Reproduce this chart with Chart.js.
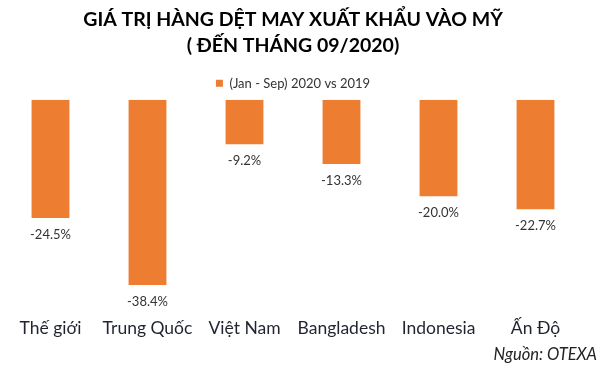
<!DOCTYPE html>
<html>
<head>
<meta charset="utf-8">
<script src="https://cdn.jsdelivr.net/npm/chart.js@4"></script>
<style>
  html, body { margin: 0; padding: 0; background: #fff; }
  #wrap { width: 604px; height: 369px; }
</style>
</head>
<body>
<div id="wrap"><canvas id="exports" width="604" height="369"></canvas></div>
<script>
const categories = ['Thế giới', 'Trung Quốc', 'Việt Nam', 'Bangladesh', 'Indonesia', 'Ấn Độ']
const changes = [-24.5, -38.4, -9.2, -13.3, -20.0, -22.7]
const seriesLabel = '(Jan - Sep) 2020 vs 2019'
const titleLines = ['GIÁ TRỊ HÀNG DỆT MAY XUẤT KHẨU VÀO MỸ', '( ĐẾN THÁNG 09/2020)']
const sourceText = 'Nguồn: OTEXA'

const font = 'Lato'

// value labels under each bar + source note
const labelsPlugin = {
  id: 'labels',
  afterDatasetsDraw(chart) {
    const ctx = chart.ctx
    const meta = chart.getDatasetMeta(0)
    ctx.save()
    ctx.font = '13px ' + font
    ctx.fillStyle = '#333'
    ctx.textAlign = 'center'
    ctx.textBaseline = 'middle'
    meta.data.forEach((bar, i) => {
      ctx.fillText(changes[i].toFixed(1) + '%', bar.x, bar.y + 17)
    })
    ctx.font = 'italic 16.5px ' + font
    ctx.fillStyle = '#222'
    ctx.textAlign = 'right'
    ctx.fillText(sourceText, 597, 355)
    ctx.restore()
  }
}

const ctx = document.querySelector('#exports')
const chart = new Chart(ctx, {
  type: 'bar',
  data: {
    labels: categories,
    datasets: [{
      label: seriesLabel,
      data: changes,
      backgroundColor: '#ED7D31',
      barPercentage: 0.39,
      categoryPercentage: 1
    }]
  },
  options: {
    responsive: false,
    animation: false,
    layout: { padding: { left: 2, right: 20, top: 2, bottom: 0 } },
    plugins: {
      title: {
        display: true,
        text: titleLines,
        color: '#000',
        font: { family: font, size: 19.5, weight: 'bold', lineHeight: 1.33 },
        padding: { top: 5, bottom: 5 }
      },
      legend: {
        display: true,
        labels: {
          boxWidth: 7,
          boxHeight: 7,
          padding: 13,
          color: '#333',
          font: { family: font, size: 13 }
        }
      },
      tooltip: { enabled: false }
    },
    scales: {
      x: {
        grid: { display: false, drawTicks: false },
        border: { display: false },
        ticks: { color: '#1f2430', padding: 33, font: { family: font, size: 17.5 } },
        afterFit(scale) {
          scale.height = 84
          scale.paddingLeft = 0
          scale.paddingRight = 0
        }
      },
      y: {
        display: false,
        min: -38.4,
        max: 0
      }
    }
  },
  plugins: [labelsPlugin]
})
</script>
</body>
</html>
